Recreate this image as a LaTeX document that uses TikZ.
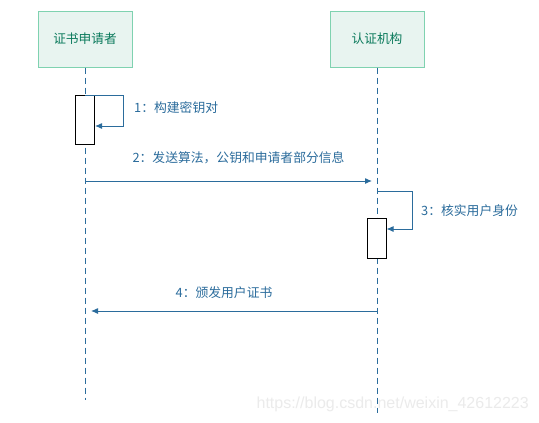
\documentclass[tikz,border=0pt]{standalone}
\usepackage{fontspec}
\setmainfont{Noto Sans CJK SC}
\newfontfamily\wmfont{Liberation Sans}
\usetikzlibrary{arrows.meta}
\definecolor{boxfill}{HTML}{E8F4F0}
\definecolor{boxdraw}{HTML}{7FD2B0}
\definecolor{boxtext}{HTML}{0B7A5C}
\definecolor{msgblue}{HTML}{2B6C9C}
\definecolor{wmgray}{HTML}{EBEBEB}
\begin{document}
\begin{tikzpicture}[x=1pt,y=-1pt,
  actor/.style={draw=boxdraw,fill=boxfill,line width=1pt,minimum width=94pt,minimum height=56pt,inner sep=0pt,text=boxtext,font=\fontsize{12.7}{14}\selectfont},
  lifeline/.style={draw=msgblue,line width=1pt,dash pattern=on 6pt off 4pt},
  activation/.style={draw=black,fill=white,line width=1pt,minimum width=19pt,inner sep=0pt},
  msg/.style={draw=msgblue,line width=1pt,-{Latex[length=7pt,width=6pt]}},
  lbl/.style={text=msgblue,font=\fontsize{12.8}{14}\selectfont,inner sep=0pt}]
\useasboundingbox (0,0) rectangle (539,423);
\fill[white] (0,0) rectangle (539,423);
% watermark
\node[text=wmgray,font=\wmfont\fontsize{16}{18}\selectfont,anchor=east,inner sep=0pt] (wm) at (529,404) {https://blog.csdn.net/weixin\_42612223};
% actors
\node[actor] (a) at (85,39) {证书申请者};
\node[actor] (b) at (377,39) {认证机构};
\coordinate (aend) at (85,400);
\coordinate (bend) at (377,413);
\draw[lifeline] (a.south) -- (aend);
\draw[lifeline] (b.south) -- (bend);
% activation 1
\node[activation,minimum height=49pt] (act1) at (85,119.5) {};
\coordinate (l1a) at (85,95);
\coordinate (l1b) at (123,95);
\coordinate (l1c) at (123,126);
\draw[msg] (l1a) -- (l1b) -- (l1c) -- (act1.east |- l1c);
\node[lbl,anchor=west] (t1) at (134,108) {1：构建密钥对};
% message 2
\coordinate (m2a) at (85,181);
\coordinate (m2b) at (372,181);
\draw[msg] (m2a) -- (m2b);
\node[lbl] (t2) at (238.5,158) {2：发送算法，公钥和申请者部分信息};
% activation 2
\node[activation,minimum height=40pt] (act2) at (376.5,238) {};
\coordinate (l2a) at (377,191);
\coordinate (l2b) at (412,191);
\coordinate (l2c) at (412,229);
\draw[msg] (l2a) -- (l2b) -- (l2c) -- (act2.east |- l2c);
\node[lbl,anchor=west] (t3) at (421,211) {3：核实用户身份};
% message 4
\coordinate (m4a) at (377,311);
\coordinate (m4b) at (91,311);
\draw[msg] (m4a) -- (m4b);
\node[lbl] (t4) at (224,293) {4：颁发用户证书};
\end{tikzpicture}
\end{document}
